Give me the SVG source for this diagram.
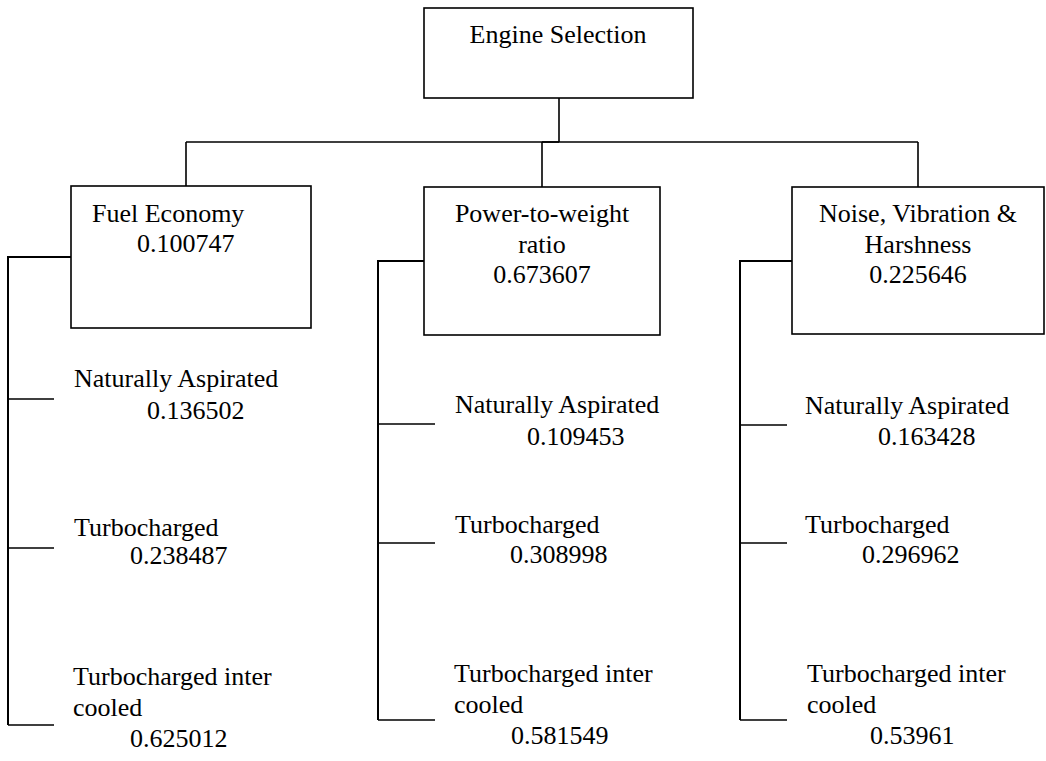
<svg xmlns="http://www.w3.org/2000/svg" width="1046" height="761" viewBox="0 0 1046 761">
  <style>
    .box { fill: #ffffff; stroke: #000000; stroke-width: 1.6; }
    .ln { fill: none; stroke: #000000; stroke-width: 1.6; }
    .trunk { fill: none; stroke: #000000; stroke-width: 2; }
    text { font-family: "Liberation Serif", "Times New Roman", serif; font-size: 26px; fill: #000000; }
    .c { text-anchor: middle; }
  </style>
  <rect width="1046" height="761" fill="#ffffff"/>

  <!-- connectors -->
  <g id="connectors">
    <path class="ln" d="M559 98 V142 M186 142 H918 M186 142 V186 M542 142 V187 M918 142 V187"/>
    <path class="ln" d="M542 142 H559" stroke-width="2.4"/>
    <!-- Fuel Economy branch -->
    <path class="trunk" d="M71 257 H8 V725"/>
    <path class="ln" d="M8 399 H54 M8 548 H54 M8 725 H54"/>
    <!-- Power-to-weight branch -->
    <path class="trunk" d="M424 261 H378 V720"/>
    <path class="ln" d="M378 424 H435 M378 543 H435 M378 720 H435"/>
    <!-- Noise, Vibration & Harshness branch -->
    <path class="trunk" d="M792 261 H740 V720"/>
    <path class="ln" d="M740 425 H787 M740 543 H787 M740 720 H787"/>
  </g>

  <g id="engine-selection">
    <rect class="box" x="424" y="8" width="269" height="90"/>
    <text class="c" x="558" y="43">Engine Selection</text>
  </g>

  <g id="fuel-economy">
    <rect class="box" x="71" y="186" width="240" height="142"/>
    <text x="92" y="222">Fuel Economy</text>
    <text x="137" y="252">0.100747</text>
  </g>

  <g id="power-to-weight">
    <rect class="box" x="424" y="187" width="236" height="148"/>
    <text class="c" x="542" y="222">Power-to-weight</text>
    <text class="c" x="542" y="253">ratio</text>
    <text class="c" x="542" y="283">0.673607</text>
  </g>

  <g id="nvh">
    <rect class="box" x="792" y="187" width="252" height="147"/>
    <text class="c" x="918" y="222">Noise, Vibration &amp;</text>
    <text class="c" x="918" y="253">Harshness</text>
    <text class="c" x="918" y="283">0.225646</text>
  </g>

  <!-- alternatives under Fuel Economy -->
  <g id="fe-na">
    <text x="74" y="387">Naturally Aspirated</text>
    <text x="147" y="419">0.136502</text>
  </g>
  <g id="fe-tc">
    <text x="74" y="536">Turbocharged</text>
    <text x="130" y="564">0.238487</text>
  </g>
  <g id="fe-tic">
    <text x="73" y="685">Turbocharged inter</text>
    <text x="73" y="716">cooled</text>
    <text x="130" y="747">0.625012</text>
  </g>

  <!-- alternatives under Power-to-weight ratio -->
  <g id="pw-na">
    <text x="455" y="413">Naturally Aspirated</text>
    <text x="527" y="445">0.109453</text>
  </g>
  <g id="pw-tc">
    <text x="455" y="533">Turbocharged</text>
    <text x="510" y="563">0.308998</text>
  </g>
  <g id="pw-tic">
    <text x="454" y="682">Turbocharged inter</text>
    <text x="454" y="713">cooled</text>
    <text x="511" y="744">0.581549</text>
  </g>

  <!-- alternatives under Noise, Vibration & Harshness -->
  <g id="nvh-na">
    <text x="805" y="414">Naturally Aspirated</text>
    <text x="878" y="445">0.163428</text>
  </g>
  <g id="nvh-tc">
    <text x="805" y="533">Turbocharged</text>
    <text x="862" y="563">0.296962</text>
  </g>
  <g id="nvh-tic">
    <text x="807" y="682">Turbocharged inter</text>
    <text x="807" y="713">cooled</text>
    <text x="870" y="744">0.53961</text>
  </g>
</svg>
